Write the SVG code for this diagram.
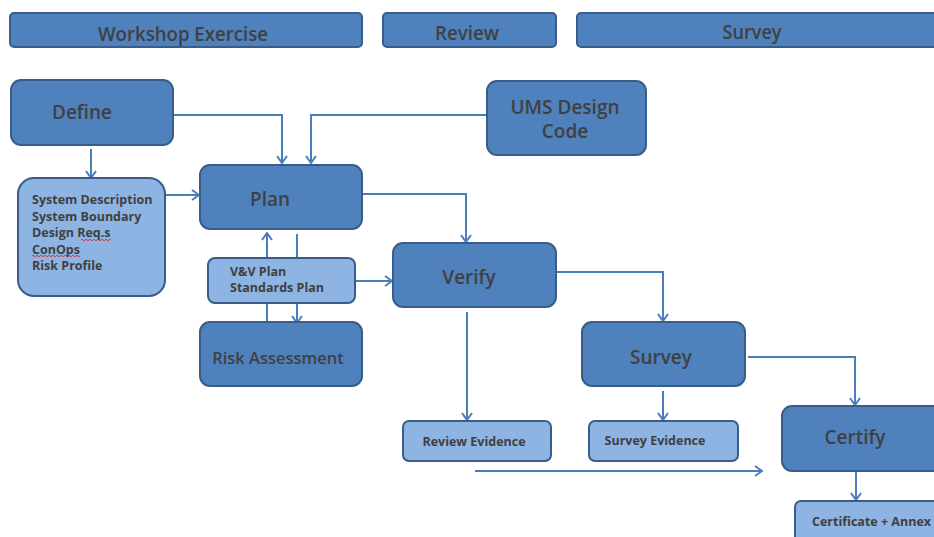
<svg xmlns="http://www.w3.org/2000/svg" width="934" height="537" viewBox="0 0 934 537">
<style>
.dk{fill:#4F81BD;stroke:#385D8A;stroke-width:2}
.lt{fill:#8EB4E3;stroke:#385D8A;stroke-width:2}
text{font-family:"Open Sans","Liberation Sans",sans-serif;font-weight:600;fill:#404040}
.c{text-anchor:middle}
.h{font-size:19px}
.big{font-size:19px}
.sm{font-size:12.5px;font-weight:700}
.md{font-size:16.5px}
.cn{fill:none;stroke:#4A7EBB;stroke-width:2}
</style>
<defs>
<marker id="a" viewBox="0 0 12 12" refX="11" refY="6" markerWidth="12" markerHeight="12" markerUnits="userSpaceOnUse" orient="auto">
<path d="M4,1 L11,6 L4,11" fill="none" stroke="#4A7EBB" stroke-width="2"/>
</marker>
</defs>
<g id="connectors" class="cn">
<path d="M173,115 H282 V163" marker-end="url(#a)"/>
<path d="M487,115 H311 V163" marker-end="url(#a)"/>
<path d="M91,149 V178" marker-end="url(#a)"/>
<path d="M165,195 H199" marker-end="url(#a)"/>
<path d="M267,322 V233" marker-end="url(#a)"/>
<path d="M297,234 V323" marker-end="url(#a)"/>
<path d="M355,281 H392" marker-end="url(#a)"/>
<path d="M362,194 H466 V242" marker-end="url(#a)"/>
<path d="M556,272 H663 V321" marker-end="url(#a)"/>
<path d="M467,312 V420" marker-end="url(#a)"/>
<path d="M748,357 H855 V405" marker-end="url(#a)"/>
<path d="M663,391 V420" marker-end="url(#a)"/>
<path d="M856,471 V500" marker-end="url(#a)"/>
<path d="M475,471 H762" marker-end="url(#a)"/>
</g>
<g id="hdr-workshop"><rect class="dk" x="10" y="13" width="352" height="34" rx="4"/><text class="h c" x="183" y="41" textLength="170" lengthAdjust="spacingAndGlyphs">Workshop Exercise</text></g>
<g id="hdr-review"><rect class="dk" x="383" y="13" width="173" height="34" rx="4"/><text class="h c" x="467" y="40" textLength="64" lengthAdjust="spacingAndGlyphs">Review</text></g>
<g id="hdr-survey"><rect class="dk" x="577" y="13" width="365" height="34" rx="4"/><text class="h c" x="752" y="39" textLength="59" lengthAdjust="spacingAndGlyphs">Survey</text></g>
<g id="define"><rect class="dk" x="11" y="80" width="162" height="65" rx="10"/><text class="big c" x="82" y="119">Define</text></g>
<g id="ums"><rect class="dk" x="487" y="81" width="159" height="74" rx="10"/><text class="big c" x="565" y="114">UMS Design</text><text class="big c" x="565" y="138">Code</text></g>
<g id="sysdesc"><rect class="lt" x="18" y="178" width="147" height="118" rx="16"/>
<text class="sm" x="32" y="204">System Description</text>
<text class="sm" x="32" y="221">System Boundary</text>
<text class="sm" x="32" y="237">Design Req.s</text>
<text class="sm" x="32" y="254">ConOps</text>
<text class="sm" x="32" y="270">Risk Profile</text>
<path d="M81,240 q1,-1.5 2,0 t2,0 t2,0 t2,0 t2,0 t2,0 t2,0 t2,0 t2,0 t2,0 t2,0 t2,0 t2,0 t2,0 t2,0 M32,256 q1,-1.5 2,0 t2,0 t2,0 t2,0 t2,0 t2,0 t2,0 t2,0 t2,0 t2,0 t2,0 t2,0 t2,0 t2,0 t2,0 t2,0 t2,0 t2,0 t2,0 t2,0 t2,0 t2,0 t2,0 t2,0" fill="none" stroke="#E02020" stroke-width="0.8"/>
</g>
<g id="plan"><rect class="dk" x="200" y="165" width="162" height="64" rx="10"/><text class="big c" x="270" y="206">Plan</text></g>
<g id="vvplan"><rect class="lt" x="208" y="258" width="147" height="45" rx="7"/><text class="sm" x="230" y="276">V&amp;V Plan</text><text class="sm" x="230" y="292">Standards Plan</text></g>
<g id="risk"><rect class="dk" x="200" y="322" width="162" height="64" rx="10"/><text class="md c" x="278" y="364">Risk Assessment</text></g>
<g id="verify"><rect class="dk" x="393" y="243" width="163" height="64" rx="10"/><text class="big c" x="469" y="284">Verify</text></g>
<g id="survey"><rect class="dk" x="582" y="322" width="163" height="64" rx="10"/><text class="big c" x="661" y="364">Survey</text></g>
<g id="reviewev"><rect class="lt" x="403" y="421" width="148" height="40" rx="6"/><text class="sm c" x="474" y="446">Review Evidence</text></g>
<g id="surveyev"><rect class="lt" x="589" y="421" width="149" height="40" rx="6"/><text class="sm c" x="655" y="445">Survey Evidence</text></g>
<g id="certify"><rect class="dk" x="782" y="406" width="162" height="65" rx="10"/><text class="big c" x="855" y="444">Certify</text></g>
<g id="cert"><rect class="lt" x="795" y="501" width="150" height="45" rx="6"/><text class="sm" x="812" y="526">Certificate + Annex</text></g>
</svg>
